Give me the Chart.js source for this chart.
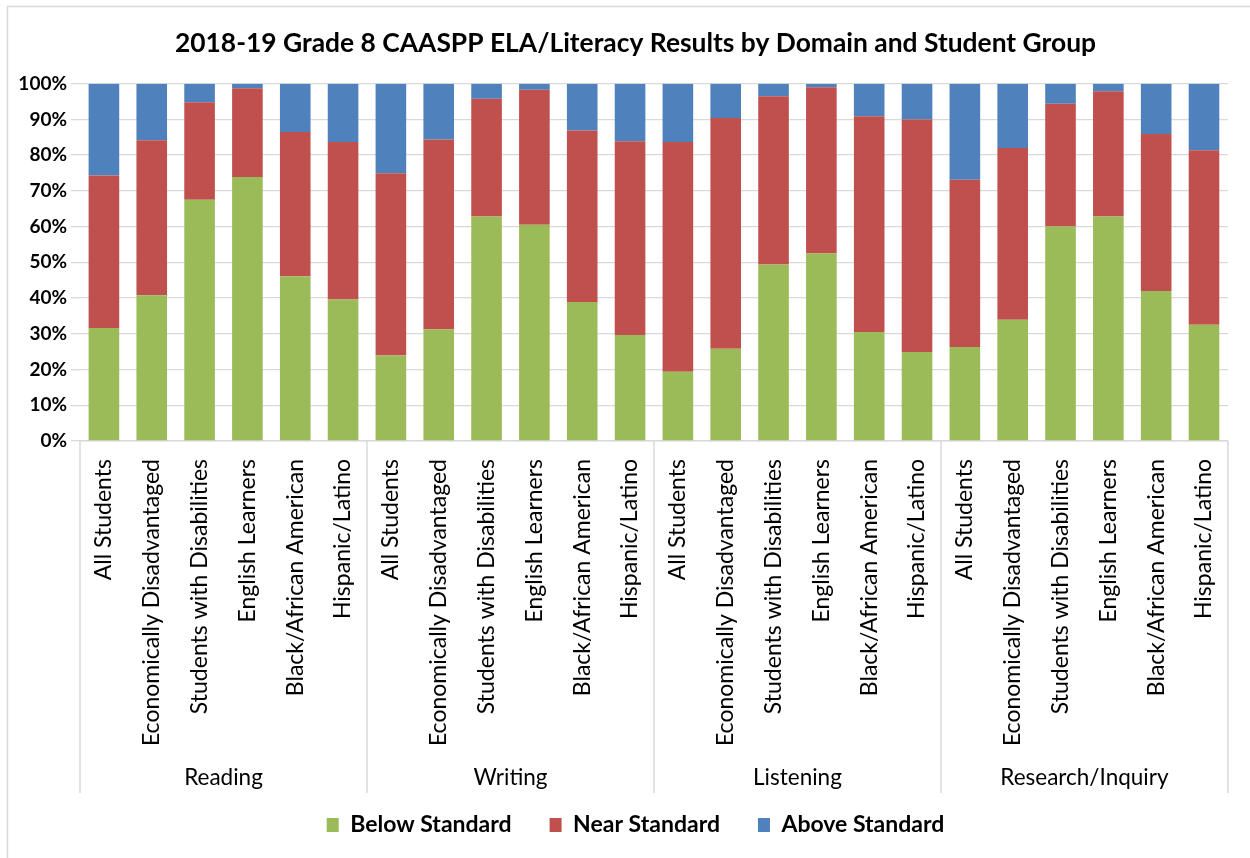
<!DOCTYPE html>
<html><head><meta charset="utf-8">
<script src="https://cdn.jsdelivr.net/npm/chart.js@4.4.1/dist/chart.umd.min.js"></script>
<style>html,body{margin:0;padding:0;background:#fff;overflow:hidden}</style>
</head><body>
<canvas id="c" width="1250" height="858"></canvas>
<script>
const chartTitle = '2018-19 Grade 8 CAASPP ELA/Literacy Results by Domain and Student Group';
const domains = ['Reading', 'Writing', 'Listening', 'Research/Inquiry'];
const groups = ['All Students', 'Economically Disadvantaged', 'Students with Disabilities', 'English Learners', 'Black/African American', 'Hispanic/Latino'];
const seriesNames = ['Below Standard', 'Near Standard', 'Above Standard'];
const seriesColors = ['#9BBB59', '#C0504D', '#4F81BD'];
// Reading | Writing | Listening | Research/Inquiry
const belowStandard = [31.6, 40.8, 67.5, 73.9, 46.1, 39.6,
                       23.9, 31.3, 62.8, 60.5, 38.9, 29.7,
                       19.4, 25.8, 49.4, 52.5, 30.5, 24.9,
                       26.3, 33.9, 60.0, 62.8, 42.0, 32.5];
const nearStandard  = [42.7, 43.4, 27.3, 24.8, 40.4, 44.1,
                       51.0, 53.1, 33.0, 37.8, 48.0, 54.2,
                       64.3, 64.6, 47.1, 46.5, 60.4, 65.1,
                       46.8, 48.1, 34.4, 35.1, 43.9, 48.9];
const aboveStandard = [25.7, 15.8, 5.2, 1.3, 13.5, 16.3,
                       25.1, 15.6, 4.2, 1.7, 13.1, 16.1,
                       16.3, 9.6, 3.5, 1.0, 9.1, 10.0,
                       26.9, 18.0, 5.6, 2.1, 14.1, 18.6];
const yMin = 0, yMax = 100, yStep = 10;

const categories = domains.flatMap(() => groups);
const FONT = 'Lato, "Open Sans", sans-serif';

const decor = {
  id: 'decor',
  afterLayout(chart) {
    // let the y tick labels use the space left of the axis box (avoid clipping)
    chart.scales.y.left = 0;
  },
  beforeDraw(chart) {
    const ctx = chart.ctx;
    ctx.save();
    ctx.fillStyle = '#fff';
    ctx.fillRect(0, 0, chart.width, chart.height);
    ctx.strokeStyle = '#d9d9d9';
    ctx.lineWidth = 1.5;
    ctx.beginPath();
    ctx.moveTo(7.5, chart.height + 2);
    ctx.lineTo(7.5, 6.5);
    ctx.lineTo(chart.width + 2, 6.5);
    ctx.stroke();
    ctx.restore();
  },
  afterDraw(chart) {
    const ctx = chart.ctx;
    const x = chart.scales.x;
    const area = chart.chartArea;
    const n = groups.length;
    ctx.save();
    ctx.strokeStyle = '#d9d9d9';
    ctx.lineWidth = 1.5;
    for (let g = 0; g <= domains.length; g++) {
      let px;
      if (g === 0) px = x.left;
      else if (g === domains.length) px = x.right;
      else px = (x.getPixelForValue(g * n - 1) + x.getPixelForValue(g * n)) / 2;
      ctx.beginPath();
      ctx.moveTo(px, area.bottom);
      ctx.lineTo(px, area.bottom + 352);
      ctx.stroke();
    }
    ctx.fillStyle = '#000';
    ctx.font = '22.5px ' + FONT;
    ctx.textAlign = 'center';
    ctx.textBaseline = 'middle';
    domains.forEach((d, g) => {
      const cx = (x.getPixelForValue(g * n) + x.getPixelForValue(g * n + n - 1)) / 2;
      ctx.fillText(d, cx, area.bottom + 337);
    });
    ctx.restore();
  }
};

new Chart(document.getElementById('c'), {
  type: 'bar',
  data: {
    labels: categories,
    datasets: [
      { label: seriesNames[0], data: belowStandard, backgroundColor: seriesColors[0] },
      { label: seriesNames[1], data: nearStandard, backgroundColor: seriesColors[1] },
      { label: seriesNames[2], data: aboveStandard, backgroundColor: seriesColors[2] }
    ]
  },
  options: {
    responsive: false,
    animation: false,
    devicePixelRatio: 1,
    layout: { padding: { left: 40, right: 19, top: 0, bottom: 11.5 } },
    datasets: { bar: { categoryPercentage: 1.0, barPercentage: 0.64 } },
    plugins: {
      title: {
        display: true, text: chartTitle, color: '#000',
        font: { family: FONT, size: 26.4, weight: 'bold' },
        padding: { top: 28, bottom: 24 }
      },
      legend: {
        position: 'bottom',
        labels: {
          color: '#000', boxWidth: 12, boxHeight: 14, padding: 38,
          font: { family: FONT, size: 23, weight: 'bold' }
        }
      },
      tooltip: { enabled: false }
    },
    scales: {
      x: {
        stacked: true,
        grid: { display: true, drawOnChartArea: false, drawTicks: false, color: 'transparent' },
        border: { display: true, color: '#d9d9d9', width: 1.5 },
        ticks: {
          autoSkip: false, minRotation: 90, maxRotation: 90, padding: 18,
          color: '#000', font: { family: FONT, size: 23 }
        },
        afterFit(scale) { scale.height = 334.5; }
      },
      y: {
        stacked: true, min: yMin, max: yMax,
        grid: { color: '#d9d9d9', lineWidth: 1.3, tickLength: 9, drawTicks: true },
        border: { display: false },
        ticks: {
          stepSize: yStep, padding: 4, color: '#000',
          font: { family: FONT, size: 19, weight: 'bold' },
          callback: v => v + '%'
        },
        afterFit(scale) { scale.width = 40; }
      }
    }
  },
  plugins: [decor]
});
</script>
</body></html>
